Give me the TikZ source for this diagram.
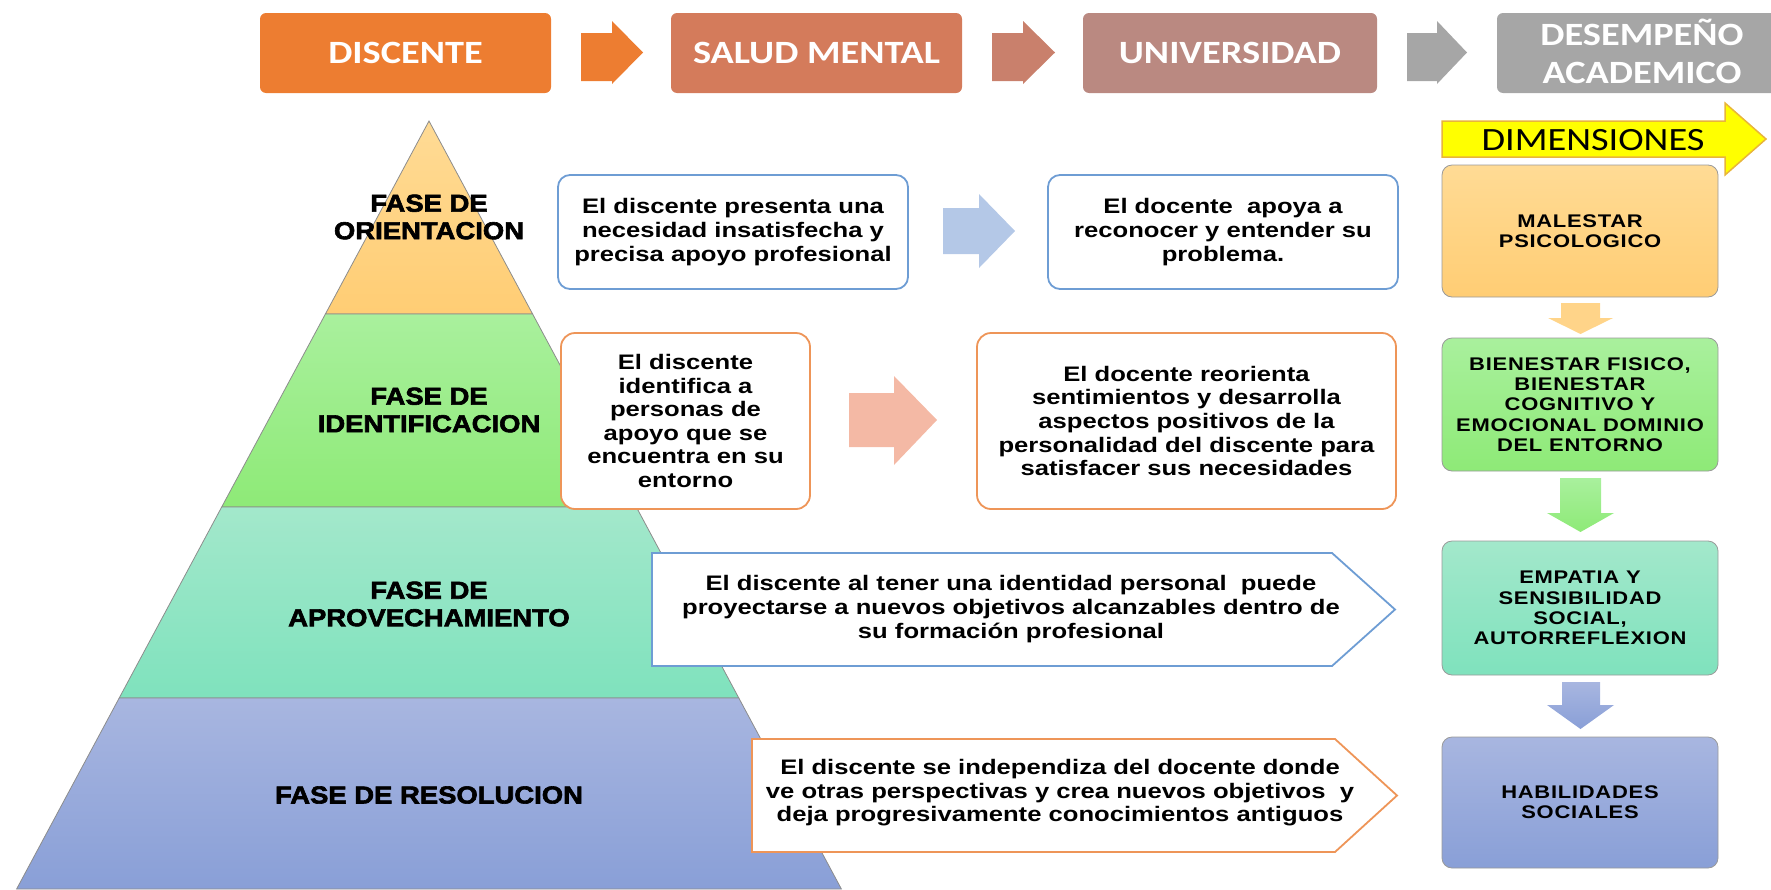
\documentclass[tikz,border=0pt]{standalone}
\usepackage{fontspec}
\setmainfont{Liberation Sans}
\newfontfamily\hdfont[FakeStretch=1.18]{Carlito}
\newfontfamily\bodyfont[FakeStretch=1.22]{Liberation Sans}
\newfontfamily\pyrfont[FakeStretch=1.12,FakeBold=2.5]{Liberation Sans}
\newfontfamily\dimfont[FakeStretch=1.2,LetterSpace=4]{Liberation Sans}
\usetikzlibrary{shapes.geometric}
\definecolor{cDisc}{HTML}{ED7D31}
\definecolor{cSalud}{HTML}{D47B5B}
\definecolor{cArr2}{HTML}{C9806C}
\definecolor{cUniv}{HTML}{BA8981}
\definecolor{cGrey}{HTML}{A6A6A6}
\definecolor{cBlueB}{HTML}{6E9DD4}
\definecolor{cOrB}{HTML}{EE9558}
\definecolor{cBlueArr}{HTML}{B4C8E7}
\definecolor{cPinkArr}{HTML}{F4B9A5}
\definecolor{oT}{HTML}{FFDB95}\definecolor{oB}{HTML}{FFCD74}
\definecolor{gT}{HTML}{A9F09D}\definecolor{gB}{HTML}{8EEA77}
\definecolor{tT}{HTML}{A3E8CB}\definecolor{tB}{HTML}{7FE2BD}
\definecolor{bT}{HTML}{A8B6E0}\definecolor{bB}{HTML}{899FD7}
\definecolor{cYel}{HTML}{FFFF00}
\definecolor{cYelB}{HTML}{E8B53A}
\tikzset{
  hdr/.style={rounded corners=6pt, inner sep=0pt, minimum height=80pt, text=white,
    font=\hdfont\bfseries\fontsize{32.5}{38}\selectfont, align=center},
  bbox/.style={rounded corners=12pt, fill=white, line width=1.8pt, inner sep=0pt,
    align=center, font=\bodyfont\bfseries\fontsize{21}{23.6}\selectfont},
  ptext/.style={align=center, inner sep=0pt, font=\bodyfont\bfseries\fontsize{21}{23.6}\selectfont},
  dimbox/.style={rounded corners=10pt, draw=black!40, line width=0.8pt, inner sep=0pt,
    minimum width=276pt, align=center, font=\dimfont\bfseries\fontsize{18.3}{20.3}\selectfont},
  pyrlab/.style={align=center, inner sep=0pt, font=\pyrfont\bfseries\fontsize{24.5}{27.5}\selectfont},
  layer/.style={draw=black!45, line width=0.8pt}
}
\begin{document}
\begin{tikzpicture}[x=1pt,y=-1pt]
\useasboundingbox (0,0) rectangle (1771,889);
\begin{scope}
\clip (0,0) rectangle (1771,889);

% ---------- pyramid ----------
\shade[layer, top color=oT, bottom color=oB] (429,121) -- (532.6,314) -- (325.4,314) -- cycle;
\shade[layer, top color=gT, bottom color=gB] (325.4,314) -- (532.6,314) -- (636.3,507) -- (221.7,507) -- cycle;
\shade[layer, top color=tT, bottom color=tB] (221.7,507) -- (636.3,507) -- (738.8,698) -- (119.2,698) -- cycle;
\shade[layer, top color=bT, bottom color=bB] (119.2,698) -- (738.8,698) -- (841.4,889) -- (16.6,889) -- cycle;

\node[pyrlab] (p1) at (429,217) {FASE DE\\ORIENTACION};
\node[pyrlab] (p2) at (429,410) {FASE DE\\IDENTIFICACION};
\node[pyrlab] (p3) at (429,604) {FASE DE\\APROVECHAMIENTO};
\node[pyrlab] (p4) at (429,795) {FASE DE RESOLUCION};

% ---------- header row ----------
\node[hdr, fill=cDisc, minimum width=291pt] (disc) at (405.5,53) {DISCENTE};
\node[hdr, fill=cSalud, minimum width=291pt] (salud) at (816.5,53) {SALUD MENTAL};
\node[hdr, fill=cUniv, minimum width=294pt] (univ) at (1230,53) {UNIVERSIDAD};
\fill[cGrey, rounded corners=6pt] (1497,13) rectangle (1800,93);
\node[hdr, minimum width=0pt, minimum height=0pt] (desem) at (1642,51) {DESEMPEÑO\\ACADEMICO};

\fill[cDisc] (581,33) -- (612,33) -- (612,21) -- (643,52.5) -- (612,84) -- (612,81) -- (581,81) -- cycle;
\fill[cArr2] (992,33) -- (1023,33) -- (1023,21) -- (1055,52.5) -- (1023,84) -- (1023,81) -- (992,81) -- cycle;
\fill[cGrey] (1407,33) -- (1437,33) -- (1437,21) -- (1467,52.5) -- (1437,84) -- (1437,81) -- (1407,81) -- cycle;

% ---------- dimensiones arrow ----------
\draw[fill=cYel, draw=cYelB, line width=1.5pt] (1442,121) -- (1725,121) -- (1725,103) -- (1766,139) -- (1725,175) -- (1725,157) -- (1442,157) -- cycle;
\node[inner sep=0pt, font=\hdfont\fontsize{32.5}{36}\selectfont] (dimtxt) at (1593,140) {DIMENSIONES};

% ---------- row 1 ----------
\node[bbox, draw=cBlueB, minimum width=350pt, minimum height=114pt] (a1) at (733,232)
  {El discente presenta una\\necesidad insatisfecha y\\precisa apoyo profesional};
\node[bbox, draw=cBlueB, minimum width=350pt, minimum height=114pt] (a2) at (1223,232)
  {El docente\ \ apoya a\\reconocer y entender su\\problema.};
\fill[cBlueArr] (943,208) -- (979,208) -- (979,194) -- (1015,231) -- (979,268) -- (979,254) -- (943,254) -- cycle;

% ---------- row 2 ----------
\node[bbox, draw=cOrB, rounded corners=14pt, minimum width=249pt, minimum height=176pt] (b1) at (685.5,421)
  {El discente\\identifica a\\personas de\\apoyo que se\\encuentra en su\\entorno};
\node[bbox, draw=cOrB, rounded corners=14pt, minimum width=419pt, minimum height=176pt] (b2) at (1186.5,421)
  {El docente reorienta\\sentimientos y desarrolla\\aspectos positivos de la\\personalidad del discente para\\satisfacer sus necesidades};
\fill[cPinkArr] (849,393) -- (894,393) -- (894,376) -- (937,420) -- (894,465) -- (894,447) -- (849,447) -- cycle;

% ---------- row 3 ----------
\draw[fill=white, draw=cBlueB, line width=1.8pt] (652,553) -- (1332,553) -- (1395,609.5) -- (1332,666) -- (652,666) -- cycle;
\node[ptext] (c1) at (1011,609) {El discente al tener una identidad personal\ \ puede\\proyectarse a nuevos objetivos alcanzables dentro de\\su formación profesional};

% ---------- row 4 ----------
\draw[fill=white, draw=cOrB, line width=1.8pt] (752,739) -- (1335,739) -- (1397,795.5) -- (1335,852) -- (752,852) -- cycle;
\node[ptext] (d1) at (1060,793) {El discente se independiza del docente donde\\ve otras perspectivas y crea nuevos objetivos\ \ y\\deja progresivamente conocimientos antiguos};

% ---------- dimension boxes ----------
\node[dimbox, top color=oT, bottom color=oB, minimum height=132pt] (m1) at (1580,231) {MALESTAR\\PSICOLOGICO};
\node[dimbox, top color=gT, bottom color=gB, minimum height=133pt] (m2) at (1580,404.5) {BIENESTAR FISICO,\\BIENESTAR\\COGNITIVO Y\\EMOCIONAL DOMINIO\\DEL ENTORNO};
\node[dimbox, top color=tT, bottom color=tB, minimum height=134pt] (m3) at (1580,608) {EMPATIA Y\\SENSIBILIDAD\\SOCIAL,\\AUTORREFLEXION};
\node[dimbox, top color=bT, bottom color=bB, minimum height=131pt] (m4) at (1580,802.5) {HABILIDADES\\SOCIALES};

\fill[oB!85!white] (1561,303) -- (1600,303) -- (1600,318) -- (1613,318) -- (1580.5,334) -- (1548,318) -- (1561,318) -- cycle;
\shade[top color=gT, bottom color=gB] (1560,478) -- (1601,478) -- (1601,513) -- (1614,513) -- (1580.5,532) -- (1547,513) -- (1560,513) -- cycle;
\shade[top color=bT, bottom color=bB] (1562,682) -- (1600,682) -- (1600,705) -- (1614,705) -- (1580.5,729) -- (1547,705) -- (1562,705) -- cycle;
\end{scope}
\end{tikzpicture}
\end{document}
